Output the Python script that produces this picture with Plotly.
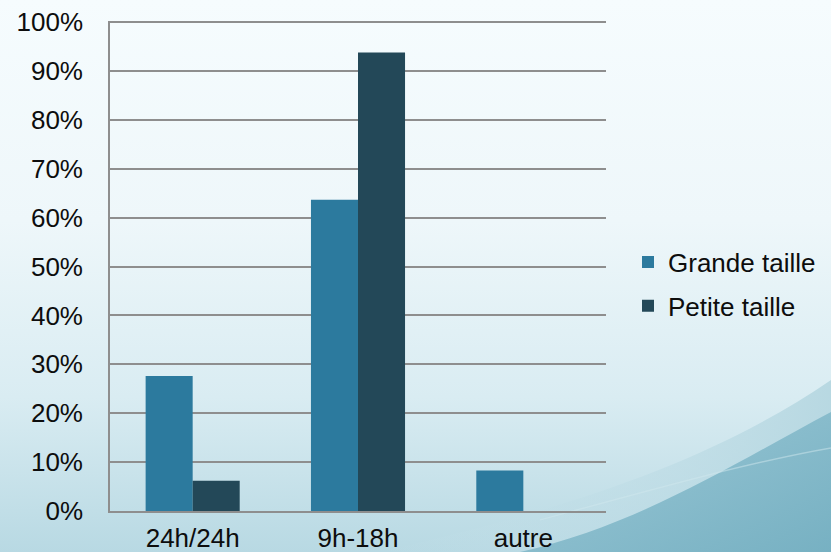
import base64
import plotly.graph_objects as go

# Survey results: opening hours by structure size (share of respondents, %)
categories = ["24h/24h", "9h-18h", "autre"]
grande_taille = [27.6, 63.7, 8.3]
petite_taille = [6.2, 93.8, 0]
y_ticks = [0, 10, 20, 30, 40, 50, 60, 70, 80, 90, 100]
y_tick_labels = [f"{v}%" for v in y_ticks]

W, H = 831, 552
M_L, M_R, M_T, M_B = 110, 225, 21, 41
plot_w = W - M_L - M_R
plot_h = H - M_T - M_B

# Soft slide-style backdrop: pale vertical gradient with a teal swoosh bottom-right
svg = f"""<svg xmlns='http://www.w3.org/2000/svg' width='{W}' height='{H}' viewBox='0 0 {W} {H}' preserveAspectRatio='none'>
<defs>
<linearGradient id='bg' x1='0' y1='0' x2='0' y2='1'>
<stop offset='0' stop-color='#f6fcfe'/>
<stop offset='0.40' stop-color='#eef7fa'/>
<stop offset='0.72' stop-color='#d9ecf2'/>
<stop offset='1' stop-color='#b8d9e3'/>
</linearGradient>
<linearGradient id='sw' x1='0' y1='0' x2='1' y2='1'>
<stop offset='0' stop-color='#94c4d3'/>
<stop offset='1' stop-color='#6caabd'/>
</linearGradient>
<linearGradient id='sw2' x1='0' y1='0' x2='1' y2='0'>
<stop offset='0' stop-color='#c6e1ea' stop-opacity='0'/>
<stop offset='1' stop-color='#b4d6e0' stop-opacity='0.9'/>
</linearGradient>
</defs>
<rect x='0' y='0' width='{W}' height='{H}' fill='url(#bg)'/>
<path d='M 380 552 C 540 515 700 470 831 380 L 831 552 Z' fill='url(#sw2)'/>
<path d='M 520 552 C 640 525 740 460 831 412 L 831 552 Z' fill='url(#sw)' opacity='0.85'/>
<path d='M 540 520 C 650 490 750 462 831 448' stroke='#cfe7ee' stroke-width='1.5' fill='none' opacity='0.5'/>
</svg>"""
bg_uri = "data:image/svg+xml;base64," + base64.b64encode(svg.encode()).decode()

fig = go.Figure()
fig.add_trace(go.Bar(name="Grande taille", x=categories, y=grande_taille,
                     legendgroup="grande",
                     marker=dict(color="#2c7a9e", line=dict(width=0))))
fig.add_trace(go.Bar(name="Petite taille", x=categories, y=petite_taille,
                     legendgroup="petite",
                     marker=dict(color="#234858", line=dict(width=0))))

font = dict(family="Liberation Sans, Arial, sans-serif", size=26, color="#0d0d0d")

fig.update_layout(
    width=W, height=H,
    margin=dict(l=M_L, r=M_R, t=M_T, b=M_B, autoexpand=False),
    paper_bgcolor="#f4fafc",
    plot_bgcolor="rgba(0,0,0,0)",
    font=font,
    barmode="group",
    bargap=0.431,
    bargroupgap=0,
    showlegend=True,
    legend=dict(x=(628 - M_L) / plot_w, y=1 - (284 - M_T) / plot_h,
                xanchor="left", yanchor="middle",
                bgcolor="rgba(0,0,0,0)", font=font, itemwidth=30,
                tracegroupgap=7),
    images=[dict(source=bg_uri, xref="paper", yref="paper",
                 x=-M_L / plot_w, y=1 + M_T / plot_h,
                 sizex=W / plot_w, sizey=H / plot_h,
                 xanchor="left", yanchor="top", sizing="stretch",
                 layer="below")],
)
fig.update_yaxes(range=[0, 100.25], tickvals=y_ticks, ticktext=y_tick_labels,
                 showgrid=True, gridcolor="#8e8e8e", gridwidth=1.6,
                 showline=True, linecolor="#8e8e8e", linewidth=1.6,
                 zeroline=False, ticks="", ticklabelstandoff=20, automargin=False)
fig.update_xaxes(showgrid=False, showline=True, linecolor="#8e8e8e", linewidth=1.6,
                 ticks="", ticklabelstandoff=3, automargin=False)

fig.write_html("out.html")
